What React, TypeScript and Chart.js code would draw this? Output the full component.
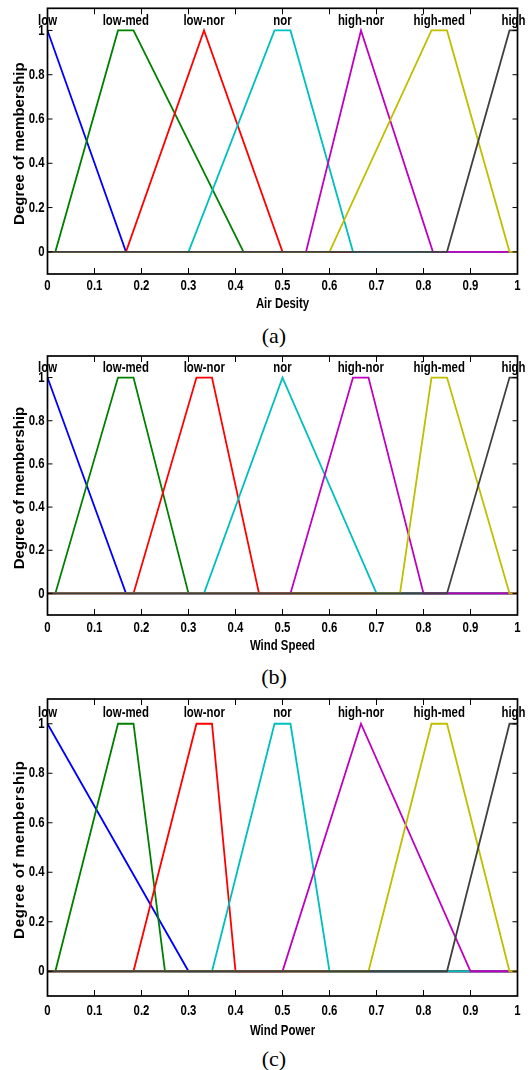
import React, { useEffect, useRef } from 'react';
import { Chart, registerables } from 'chart.js';
Chart.register(...registerables);

type Pt = [number, number];

const mfNames = ['low', 'low-med', 'low-nor', 'nor', 'high-nor', 'high-med', 'high'];

// (a) Air Desity
const airLow: Pt[] = [[0, 1], [0.167, 0], [1, 0]];
const airLowMed: Pt[] = [[0, 0], [0.0167, 0], [0.15, 1], [0.183, 1], [0.417, 0], [1, 0]];
const airLowNor: Pt[] = [[0, 0], [0.167, 0], [0.333, 1], [0.5, 0], [1, 0]];
const airNor: Pt[] = [[0, 0], [0.3, 0], [0.483, 1], [0.517, 1], [0.65, 0], [1, 0]];
const airHighNor: Pt[] = [[0, 0], [0.55, 0], [0.667, 1], [0.82, 0], [1, 0]];
const airHighMed: Pt[] = [[0, 0], [0.6, 0], [0.817, 1], [0.85, 1], [0.983, 0], [1, 0]];
const airHigh: Pt[] = [[0, 0], [0.85, 0], [0.983, 1], [1, 1]];

// (b) Wind Speed
const speedLow: Pt[] = [[0, 1], [0.167, 0], [1, 0]];
const speedLowMed: Pt[] = [[0, 0], [0.0167, 0], [0.15, 1], [0.183, 1], [0.3, 0], [1, 0]];
const speedLowNor: Pt[] = [[0, 0], [0.183, 0], [0.317, 1], [0.35, 1], [0.45, 0], [1, 0]];
const speedNor: Pt[] = [[0, 0], [0.333, 0], [0.5, 1], [0.7, 0], [1, 0]];
const speedHighNor: Pt[] = [[0, 0], [0.517, 0], [0.65, 1], [0.683, 1], [0.8, 0], [1, 0]];
const speedHighMed: Pt[] = [[0, 0], [0.75, 0], [0.817, 1], [0.85, 1], [0.983, 0], [1, 0]];
const speedHigh: Pt[] = [[0, 0], [0.85, 0], [0.983, 1], [1, 1]];

// (c) Wind Power
const powerLow: Pt[] = [[0, 1], [0.3, 0], [1, 0]];
const powerLowMed: Pt[] = [[0, 0], [0.0167, 0], [0.15, 1], [0.183, 1], [0.25, 0], [1, 0]];
const powerLowNor: Pt[] = [[0, 0], [0.183, 0], [0.317, 1], [0.35, 1], [0.4, 0], [1, 0]];
const powerNor: Pt[] = [[0, 0], [0.35, 0], [0.483, 1], [0.517, 1], [0.6, 0], [1, 0]];
const powerHighNor: Pt[] = [[0, 0], [0.5, 0], [0.667, 1], [0.9, 0], [1, 0]];
const powerHighMed: Pt[] = [[0, 0], [0.683, 0], [0.817, 1], [0.85, 1], [0.983, 0], [1, 0]];
const powerHigh: Pt[] = [[0, 0], [0.85, 0], [0.983, 1], [1, 1]];

const xTicks = [0, 0.1, 0.2, 0.3, 0.4, 0.5, 0.6, 0.7, 0.8, 0.9, 1];
const yTicks = [0, 0.2, 0.4, 0.6, 0.8, 1];

const colors = ['#0000ff', '#008000', '#ff0000', '#00bfbf', '#bf00bf', '#bfbf00', '#404040'];
const SANS = "'Liberation Sans', Arial, sans-serif";
const SQUEEZE = 0.76;

interface PanelCfg {
  top: number;
  plotTop: number;
  plotBottom: number;
  axisH: number;
  tickOff: number;
  titleOff: number;
  xTitle: string;
  series: Pt[][];
  yTitleLen: number;
  caption: string;
  captionY: number;
}

const panels: PanelCfg[] = [
  {
    top: 0, plotTop: 8.3, plotBottom: 274, axisH: 46, tickOff: 12, titleOff: 30,
    xTitle: 'Air Desity', yTitleLen: 160, caption: '(a)', captionY: 336,
    series: [airLow, airLowMed, airLowNor, airNor, airHighNor, airHighMed, airHigh],
  },
  {
    top: 340, plotTop: 356, plotBottom: 615, axisH: 46, tickOff: 13, titleOff: 31,
    xTitle: 'Wind Speed', yTitleLen: 157, caption: '(b)', captionY: 677,
    series: [speedLow, speedLowMed, speedLowNor, speedNor, speedHighNor, speedHighMed, speedHigh],
  },
  {
    top: 690, plotTop: 699, plotBottom: 996, axisH: 50, tickOff: 15, titleOff: 35,
    xTitle: 'Wind Power', yTitleLen: 178, caption: '(c)', captionY: 1059,
    series: [powerLow, powerLowMed, powerLowNor, powerNor, powerHighNor, powerHighMed, powerHigh],
  },
];

const fmt = (v: number) => String(+Number(v).toFixed(2));

function plateauCenter(s: Pt[]): number {
  const ones = s.filter((p) => p[1] === 1).map((p) => p[0]);
  return (ones[0] + ones[ones.length - 1]) / 2;
}

function narrowText(ctx: CanvasRenderingContext2D, text: string, x: number, y: number, align: CanvasTextAlign) {
  ctx.save();
  ctx.translate(x, y);
  ctx.scale(SQUEEZE, 1);
  ctx.textAlign = align;
  ctx.textBaseline = 'middle';
  ctx.fillText(text, 0, 0);
  ctx.restore();
}

function Panel({ cfg }: { cfg: PanelCfg }) {
  const ref = useRef<HTMLCanvasElement>(null);
  const height = cfg.plotBottom + cfg.axisH - cfg.top;
  useEffect(() => {
    if (!ref.current) return;
    const framePlugin = {
      id: 'frame',
      afterDraw(chart: any) {
        const { ctx, chartArea: a, scales } = chart;
        const xs = scales.x;
        const ys = scales.y;
        ctx.save();
        ctx.strokeStyle = '#000';
        ctx.lineWidth = 1;
        ctx.beginPath();
        for (const t of xTicks) {
          const px = xs.getPixelForValue(t);
          ctx.moveTo(px, a.bottom);
          ctx.lineTo(px, a.bottom - 6);
          ctx.moveTo(px, a.top);
          ctx.lineTo(px, a.top + 6);
        }
        for (const t of yTicks) {
          const py = ys.getPixelForValue(t);
          ctx.moveTo(a.left, py);
          ctx.lineTo(a.left + 5, py);
          ctx.moveTo(a.right, py);
          ctx.lineTo(a.right - 5, py);
        }
        ctx.stroke();
        ctx.lineWidth = 1.7;
        ctx.strokeRect(a.left, a.top, a.right - a.left, a.bottom - a.top);

        ctx.fillStyle = '#000';
        ctx.font = `bold 15px ${SANS}`;
        // tick labels
        for (const t of xTicks) {
          narrowText(ctx, fmt(t), xs.getPixelForValue(t), a.bottom + cfg.tickOff, 'center');
        }
        for (const t of yTicks) {
          narrowText(ctx, fmt(t), a.left - 3, ys.getPixelForValue(t), 'right');
        }
        // x title
        narrowText(ctx, cfg.xTitle, (a.left + a.right) / 2, a.bottom + cfg.titleOff, 'center');
        // membership labels
        cfg.series.forEach((s, i) => {
          narrowText(ctx, mfNames[i], xs.getPixelForValue(plateauCenter(s)), ys.getPixelForValue(1.045), 'center');
        });
        // y title
        const text = 'Degree of membership';
        ctx.font = `bold 15px ${SANS}`;
        const w0 = ctx.measureText(text).width;
        const sp = Math.max(0, (cfg.yTitleLen - w0) / (text.length - 1));
        (ctx as any).letterSpacing = `${sp}px`;
        ctx.translate(20, (a.top + a.bottom) / 2 + 2.5);
        ctx.rotate(-Math.PI / 2);
        ctx.textAlign = 'center';
        ctx.textBaseline = 'middle';
        ctx.fillText(text, sp / 2, 0);
        ctx.restore();
      },
    };
    const chart = new Chart(ref.current, {
      type: 'line',
      data: {
        datasets: cfg.series.map((s, i) => ({
          label: mfNames[i],
          data: s.map(([x, y]) => ({ x, y })),
          borderColor: colors[i],
          backgroundColor: colors[i],
          borderWidth: 1.8,
          pointRadius: 0,
          fill: false,
          tension: 0,
          order: cfg.series.length - 1 - i,
        })),
      },
      options: {
        animation: false,
        responsive: false,
        maintainAspectRatio: false,
        layout: { padding: { top: cfg.plotTop - cfg.top, right: 13.5, left: 0, bottom: 0 } },
        plugins: { legend: { display: false }, tooltip: { enabled: false } },
        scales: {
          x: {
            type: 'linear',
            min: 0,
            max: 1,
            grid: { display: false, drawTicks: false },
            border: { display: false },
            afterBuildTicks: (s: any) => {
              s.ticks = xTicks.map((v) => ({ value: v }));
            },
            afterFit: (s: any) => {
              s.height = cfg.axisH;
              s.paddingLeft = 0;
              s.paddingRight = 0;
            },
            ticks: { display: false },
          },
          y: {
            type: 'linear',
            min: -0.1,
            max: 1.1,
            grid: { display: false, drawTicks: false },
            border: { display: false },
            afterBuildTicks: (s: any) => {
              s.ticks = yTicks.map((v) => ({ value: v }));
            },
            afterFit: (s: any) => {
              s.width = 47.5;
              s.paddingTop = 0;
              s.paddingBottom = 0;
            },
            ticks: { display: false },
          },
        },
      },
      plugins: [framePlugin],
    } as any);
    return () => chart.destroy();
  }, [cfg]);
  return (
    <>
      <canvas
        ref={ref}
        width={531}
        height={height}
        style={{ position: 'absolute', left: 0, top: cfg.top, width: 531, height, display: 'block' }}
      />
      <div
        style={{
          position: 'absolute',
          left: 224,
          width: 100,
          top: cfg.captionY - 12,
          height: 24,
          lineHeight: '24px',
          textAlign: 'center',
          fontFamily: "'Liberation Serif', 'Times New Roman', serif",
          fontSize: 22,
          color: '#000',
        }}
      >
        {cfg.caption}
      </div>
    </>
  );
}

export default function App() {
  return (
    <div style={{ position: 'absolute', left: 0, top: 0, width: 531, height: 1070, background: '#fff' }}>
      {panels.map((p, i) => (
        <Panel key={i} cfg={p} />
      ))}
    </div>
  );
}
